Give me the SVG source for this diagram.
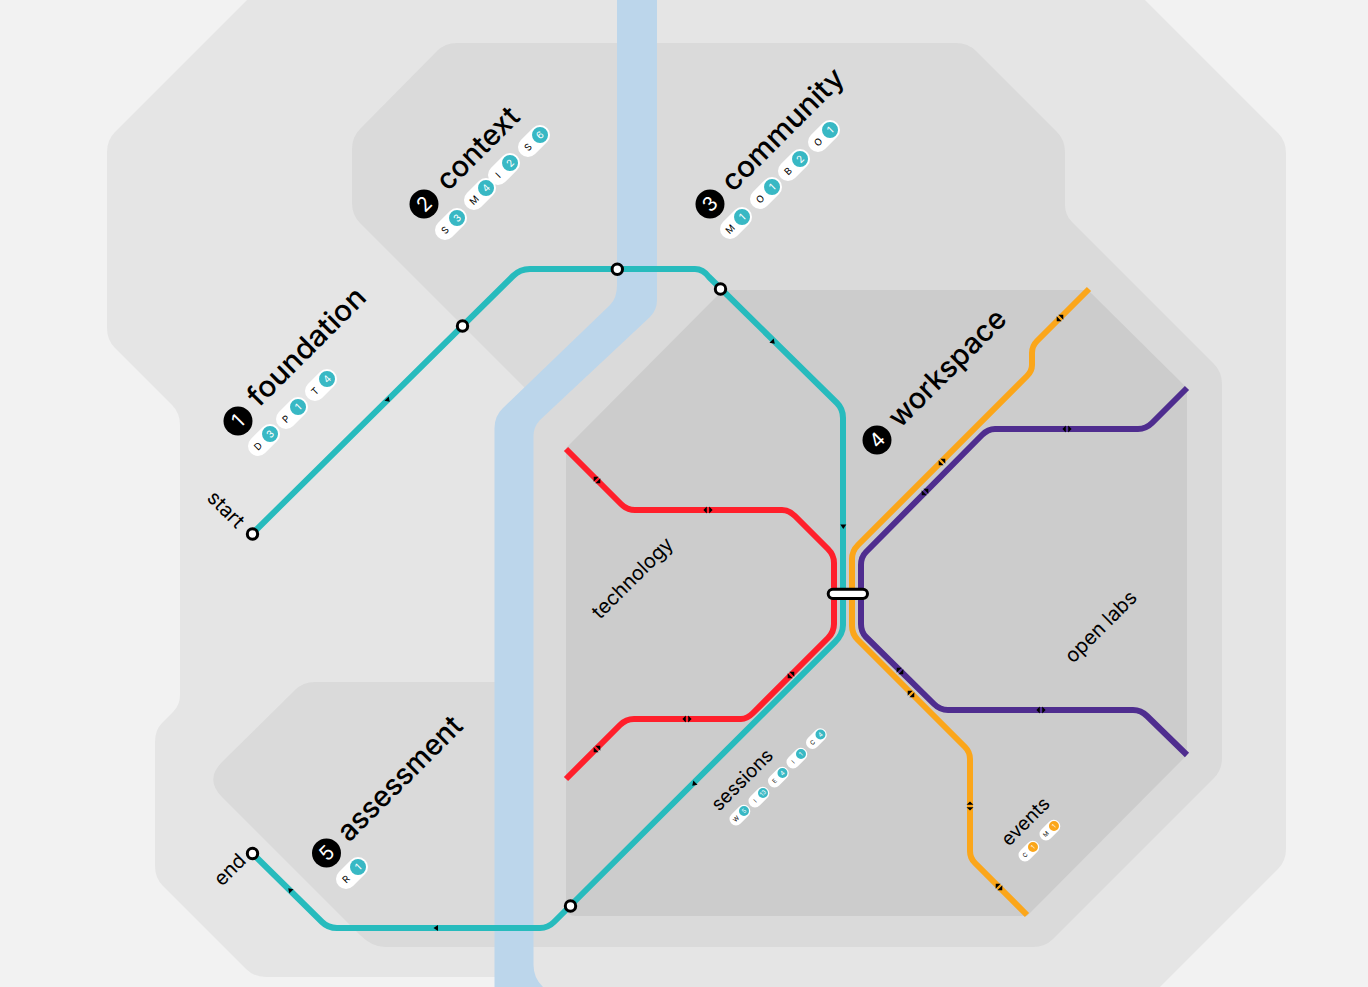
<svg xmlns="http://www.w3.org/2000/svg" width="1368" height="987" viewBox="0 0 1368 987">
<style>
text{font-family:"Inter","Liberation Sans",sans-serif;fill:#000}
.o{fill:#e5e5e5}
.m{fill:#dadada}
.w{fill:#cccccc}
.l{fill:none;stroke-width:6;stroke-linejoin:round}
.t{stroke:#27bbbd}.r{stroke:#ff1f2b}.y{stroke:#fba61a}.p{stroke:#4f2d8f}
.st{fill:#fff;stroke:#000;stroke-width:3}
.h{font-size:29px;font-weight:500}.n{font-size:20px;fill:#fff;text-anchor:middle}
.s{font-size:20px}.s2{font-size:19px}
.pb{fill:#fff}.pc{fill:#38b8c4}.pe{fill:#fba61a}
.d{font-size:9.5px;text-anchor:middle}.c{font-size:10px;fill:#fff;text-anchor:middle}
.dt{font-size:6px;text-anchor:middle}.ct{font-size:6px;fill:#fff;text-anchor:middle}
.a{fill:#000}
</style>
<defs>
<g id="a1"><path class="a" d="M-3-2L3-2L0 2.5Z"/></g>
<g id="a2"><path class="a" d="M-1.2-3.5L-4.6 0L-1.2 3.5ZM1.2-3.5L4.6 0L1.2 3.5Z"/></g>
<g id="pill"><rect class="pb" x="-10" y="-10" width="37" height="20" rx="10"/></g>
<g id="pillS"><rect class="pb" x="-6.5" y="-6.5" width="24" height="13" rx="6.5"/></g>
</defs>
<rect width="1368" height="987" fill="#f2f2f2"/>
<g id="bg">
<path class="o" d="M257 -10L115 132Q107 140 107 152V328Q107 340 115 348L172 405Q180 413 180 425V695Q180 705 173 712L162 723Q155 730 155 742V866Q155 878 163 886L246 969Q254 977 266 977H500V1000H1147L1278 869Q1286 861 1286 849V153Q1286 141 1278 133L1135 -10Z"/>
<path class="m" d="M457 43H956Q968 43 976 51L1057 132Q1065 140 1065 152V205Q1065 215 1072 222L1214 364Q1222 372 1222 384V758Q1222 770 1214 778L1053 939Q1045 947 1033 947H520V400L526 389L360 223Q352 215 352 203V149Q352 137 360 129L437 51Q445 43 457 43Z"/>
<path class="m" d="M500 682H315Q303 682 295 690L222 762Q204.500 779.500 222 797L360 935Q372 947 385 947H500Z"/>
<path fill="#bcd6eb" d="M617 0H657V300Q657 310 650 317L540 420Q533.500 427 533.500 436V965Q533.500 978 543 987H494.500V428Q494.500 416 503 408L610 305Q617 298 617 285Z"/>
<path class="w" d="M566 448L723 290H1088L1187 388V755L1027 916H576Q566 916 566 906Z"/>
</g>
<g id="connectors">
<path class="l t" d="M252 534L513 276Q520 269 530 269H695Q703 269 709 277L837 403Q843 409 843 418V594"/>
<path class="l t" d="M252 853L322 922Q328 928 337 928H540Q548 928 554 922L835 642Q843 634 843 625V594"/>
<path class="l r" d="M566 449L621 504Q627 510 635 510H782Q789 510 795 516L828 549Q834 555 834 563V594"/>
<path class="l r" d="M566 779L620 725Q626 719 634 719H741Q747 719 753 713L828 638Q834 632 834 624V594"/>
<path class="l y" d="M1089 289L1037 341Q1032 346 1032 353V365Q1032 371 1027 376L858 545Q852 551 852 559V594"/>
<path class="l y" d="M1027 915L975 863Q970 858 970 851V759Q970 752 965 747L858 640Q852 634 852 626V594"/>
<path class="l p" d="M1187 388L1152 423Q1146 429 1138 429H995Q988 429 982 435L866 552Q861 557 861 565V594"/>
<path class="l p" d="M1187 755L1147 716Q1141 710 1133 710H948Q940 710 934 704L866 637Q861 632 861 624V594"/>
<use href="#a1" transform="translate(388 400) rotate(-45)"/>
<use href="#a1" transform="translate(773 342) rotate(-45)"/>
<use href="#a1" transform="translate(843.300 526.500)"/>
<use href="#a1" transform="translate(694 784) rotate(45)"/>
<use href="#a1" transform="translate(436 928) rotate(90)"/>
<use href="#a1" transform="translate(290 890) rotate(135)"/>
<use href="#a2" transform="translate(597 480) rotate(45)"/>
<use href="#a2" transform="translate(708 510)"/>
<use href="#a2" transform="translate(597 749) rotate(-45)"/>
<use href="#a2" transform="translate(687 719)"/>
<use href="#a2" transform="translate(791 675) rotate(-45)"/>
<use href="#a2" transform="translate(1060 318) rotate(-45)"/>
<use href="#a2" transform="translate(942 462) rotate(-45)"/>
<use href="#a2" transform="translate(925 492) rotate(-45)"/>
<use href="#a2" transform="translate(1067 429)"/>
<use href="#a2" transform="translate(900 671) rotate(45)"/>
<use href="#a2" transform="translate(911 694) rotate(45)"/>
<use href="#a2" transform="translate(1041 710)"/>
<use href="#a2" transform="translate(970 806) rotate(90)"/>
<use href="#a2" transform="translate(999 887) rotate(45)"/>
</g>
<g id="stations">
<circle class="st" cx="252.500" cy="534" r="5.200"/>
<circle class="st" cx="462.500" cy="326" r="5.200"/>
<circle class="st" cx="617.300" cy="269.300" r="5.200"/>
<circle class="st" cx="720.500" cy="289" r="5.200"/>
<circle class="st" cx="570.500" cy="906" r="5.200"/>
<circle class="st" cx="252.500" cy="853.500" r="5.200"/>
<rect class="st" x="828.200" y="589.200" width="39.300" height="9.300" rx="4.650"/>
</g>
<g id="foundation">
<circle cx="238" cy="421" r="14.500"/><text class="n" x="238" y="428" transform="rotate(-45 238 421)">1</text>
<text class="h" textLength="154" lengthAdjust="spacingAndGlyphs" transform="translate(259 408) rotate(-45)">foundation</text>
<g transform="translate(258 446) rotate(-45)"><use href="#pill"/><circle class="pc" cx="17" r="8"/><text class="d" y="3.500">D</text><text class="c" x="17" y="3.600">3</text></g>
<g transform="translate(286 419) rotate(-45)"><use href="#pill"/><circle class="pc" cx="17" r="8"/><text class="d" y="3.500">P</text><text class="c" x="17" y="3.600">1</text></g>
<g transform="translate(315 391) rotate(-45)"><use href="#pill"/><circle class="pc" cx="17" r="8"/><text class="d" y="3.500">T</text><text class="c" x="17" y="3.600">4</text></g>
</g>
<g id="context">
<circle cx="424" cy="204" r="14.500"/><text class="n" x="424" y="211" transform="rotate(-45 424 204)">2</text>
<text class="h" textLength="104" lengthAdjust="spacingAndGlyphs" transform="translate(448 192) rotate(-45)">context</text>
<g transform="translate(445 230) rotate(-45)"><use href="#pill"/><circle class="pc" cx="17" r="8"/><text class="d" y="3.500">S</text><text class="c" x="17" y="3.600">3</text></g>
<g transform="translate(474 200) rotate(-45)"><use href="#pill"/><circle class="pc" cx="17" r="8"/><text class="d" y="3.500">M</text><text class="c" x="17" y="3.600">4</text></g>
<g transform="translate(498 175) rotate(-45)"><use href="#pill"/><circle class="pc" cx="17" r="8"/><text class="d" y="3.500">I</text><text class="c" x="17" y="3.600">2</text></g>
<g transform="translate(528 147) rotate(-45)"><use href="#pill"/><circle class="pc" cx="17" r="8"/><text class="d" y="3.500">S</text><text class="c" x="17" y="3.600">6</text></g>
</g>
<g id="community">
<circle cx="710" cy="204" r="14.500"/><text class="n" x="710" y="211" transform="rotate(-45 710 204)">3</text>
<text class="h" textLength="160" lengthAdjust="spacingAndGlyphs" transform="translate(733 193) rotate(-45)">community</text>
<g transform="translate(730 229) rotate(-45)"><use href="#pill"/><circle class="pc" cx="17" r="8"/><text class="d" y="3.500">M</text><text class="c" x="17" y="3.600">1</text></g>
<g transform="translate(760 199) rotate(-45)"><use href="#pill"/><circle class="pc" cx="17" r="8"/><text class="d" y="3.500">O</text><text class="c" x="17" y="3.600">1</text></g>
<g transform="translate(788 171) rotate(-45)"><use href="#pill"/><circle class="pc" cx="17" r="8"/><text class="d" y="3.500">B</text><text class="c" x="17" y="3.600">2</text></g>
<g transform="translate(818 142) rotate(-45)"><use href="#pill"/><circle class="pc" cx="17" r="8"/><text class="d" y="3.500">O</text><text class="c" x="17" y="3.600">1</text></g>
</g>
<g id="workspace">
<circle cx="877" cy="440" r="14.500"/><text class="n" x="877" y="447" transform="rotate(-45 877 440)">4</text>
<text class="h" textLength="153" lengthAdjust="spacingAndGlyphs" transform="translate(900 429) rotate(-45)">workspace</text>
</g>
<g id="assessment">
<circle cx="326.500" cy="853" r="14.500"/><text class="n" x="326.500" y="860" transform="rotate(-45 326.500 853)">5</text>
<text class="h" textLength="163" lengthAdjust="spacingAndGlyphs" transform="translate(349 843) rotate(-45)">assessment</text>
<g transform="translate(346 879) rotate(-45)"><use href="#pill"/><circle class="pc" cx="17" r="8"/><text class="d" y="3.500">R</text><text class="c" x="17" y="3.600">1</text></g>
</g>
<g id="labels">
<text class="s" transform="translate(206 499) rotate(45)">start</text>
<text class="s" transform="translate(222 887) rotate(-45)">end</text>
<text class="s" transform="translate(600 620) rotate(-45)">technology</text>
<text class="s" transform="translate(1073 664) rotate(-45)">open labs</text>
<text class="s2" transform="translate(719 812) rotate(-45)">sessions</text>
<text class="s2" transform="translate(1009 847) rotate(-45)">events</text>
</g>
<g id="sessions-tags">
<g transform="translate(736 819) rotate(-45)"><use href="#pillS"/><circle class="pc" cx="11.300" r="5"/><text class="dt" y="2.100">W</text><text class="ct" x="11.300" y="2.100">5</text></g>
<g transform="translate(755 801) rotate(-45)"><use href="#pillS"/><circle class="pc" cx="11.300" r="5"/><text class="dt" y="2.100">I</text><text class="ct" x="11.300" y="2.100">13</text></g>
<g transform="translate(774.500 781) rotate(-45)"><use href="#pillS"/><circle class="pc" cx="11.300" r="5"/><text class="dt" y="2.100">E</text><text class="ct" x="11.300" y="2.100">4</text></g>
<g transform="translate(793 762) rotate(-45)"><use href="#pillS"/><circle class="pc" cx="11.300" r="5"/><text class="dt" y="2.100">I</text><text class="ct" x="11.300" y="2.100">1</text></g>
<g transform="translate(812.500 742.500) rotate(-45)"><use href="#pillS"/><circle class="pc" cx="11.300" r="5"/><text class="dt" y="2.100">C</text><text class="ct" x="11.300" y="2.100">4</text></g>
</g>
<g id="events-tags">
<g transform="translate(1025 855) rotate(-45)"><use href="#pillS"/><circle class="pe" cx="11.300" r="5"/><text class="dt" y="2.100">C</text><text class="ct" x="11.300" y="2.100">1</text></g>
<g transform="translate(1046 834) rotate(-45)"><use href="#pillS"/><circle class="pe" cx="11.300" r="5"/><text class="dt" y="2.100">M</text><text class="ct" x="11.300" y="2.100">1</text></g>
</g>
</svg>
